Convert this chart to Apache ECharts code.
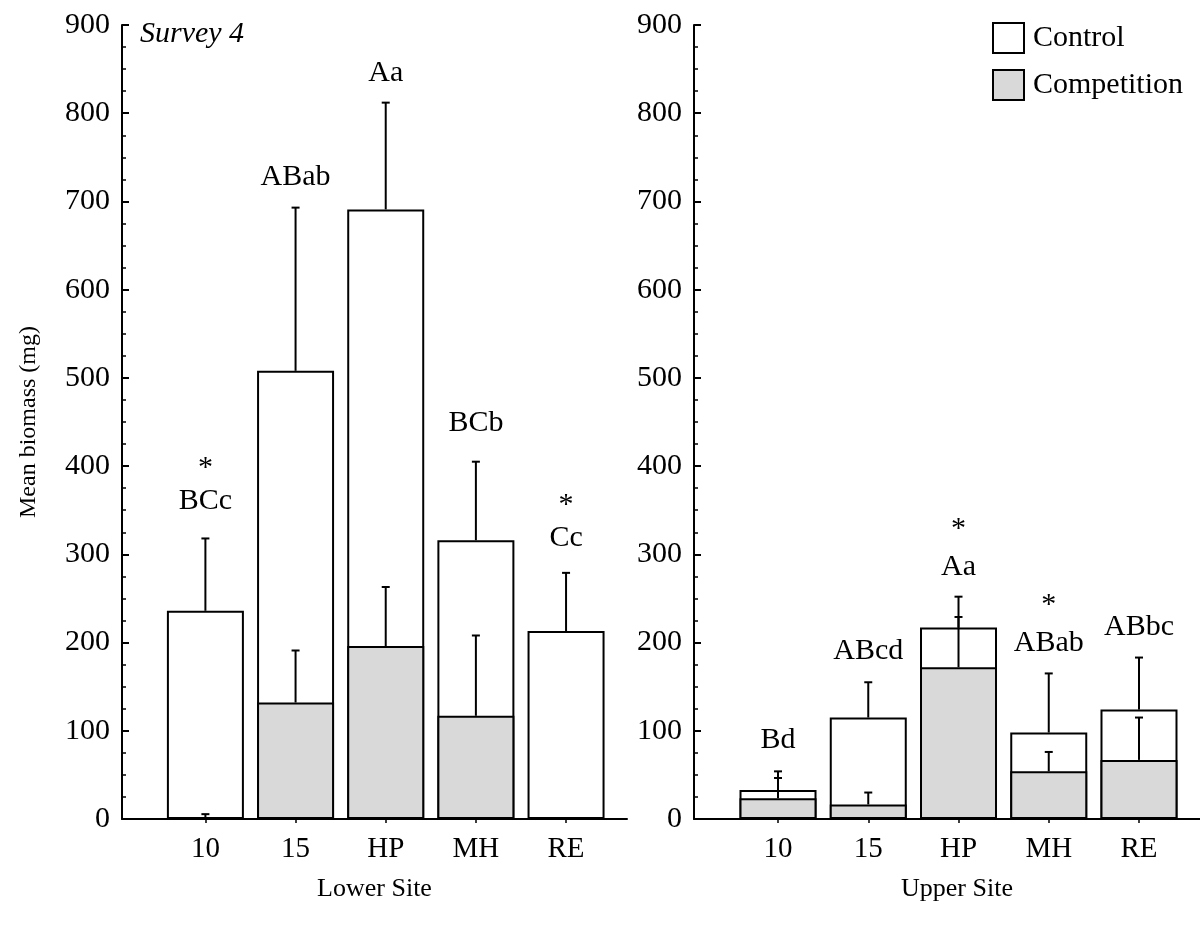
<!DOCTYPE html>
<html>
<head>
<meta charset="utf-8">
<script src="https://cdn.jsdelivr.net/npm/echarts@6/dist/echarts.min.js"></script>
<style>html,body{margin:0;padding:0;background:#fff;}#c{width:1200px;height:932px;}</style>
</head>
<body>
<div id="c"></div>
<script>
const categories = ['10', '15', 'HP', 'MH', 'RE'];
const positions = [1, 2, 3, 4, 5];
const yTicks = [0, 100, 200, 300, 400, 500, 600, 700, 800, 900];

const lowerControl = [236, 508, 691, 316, 213];
const lowerControlSE = [82, 185, 121, 89, 66];
const lowerCompetition = [1.5, 132, 196, 117, 0];
const lowerCompetitionSE = [4, 59, 67, 91, 0];

const upperControl = [33, 115, 217, 98, 124];
const upperControlSE = [21, 40, 35, 67, 59];
const upperCompetition = [23.5, 16.5, 172, 54, 67];
const upperCompetitionSE = [23, 13.5, 57, 22, 48];

const lowerLetters = ['BCc', 'ABab', 'Aa', 'BCb', 'Cc'];
const lowerLetterY = [360, 728, 845, 449, 318];
const lowerStarY = [406, null, null, null, 364];
const upperLetters = ['Bd', 'ABcd', 'Aa', 'ABab', 'ABbc'];
const upperLetterY = [89, 190, 286, 199, 218];
const upperStarY = [null, null, 337, 250, null];

const FONT = "'Liberation Serif', 'Times New Roman', serif";
const GRAY = '#d9d9d9';

function pairs(vals) { return vals.map((v, i) => [positions[i], v]); }
function errData(vals, se) { return vals.map((v, i) => [positions[i], v, se[i]]); }

function errRender(params, api) {
  const x = api.value(0), v = api.value(1), se = api.value(2);
  if (!se) return null;
  const p0 = api.coord([x, v]);
  const p1 = api.coord([x, v + se]);
  const st = { stroke: '#000', lineWidth: 2 };
  return {
    type: 'group',
    children: [
      { type: 'line', shape: { x1: p0[0], y1: p0[1], x2: p1[0], y2: p1[1] }, style: st },
      { type: 'line', shape: { x1: p1[0] - 4, y1: p1[1], x2: p1[0] + 4, y2: p1[1] }, style: st }
    ]
  };
}

function xAxisDef(gi, min, max, name, namePad) {
  return {
    type: 'value', gridIndex: gi, min: min, max: max,
    name: name, nameLocation: 'middle', nameGap: 57,
    nameTextStyle: { fontFamily: FONT, fontSize: 26, color: '#000', padding: namePad },
    axisLine: { show: true, onZero: false, lineStyle: { color: '#000', width: 2 } },
    axisTick: { show: true, inside: false, length: 4, customValues: positions, lineStyle: { color: '#000', width: 1.5 } },
    axisLabel: { show: true, customValues: positions, margin: 16, fontFamily: FONT, fontSize: 29, color: '#000',
      formatter: v => categories[positions.indexOf(Math.round(v))] || '' },
    splitLine: { show: false }
  };
}

function yAxisDef(gi, withName) {
  return {
    type: 'value', gridIndex: gi, min: 0, max: 900, interval: 100,
    name: withName ? 'Mean biomass (mg)' : '', nameLocation: 'middle', nameGap: 81, nameRotate: 90,
    nameTextStyle: { fontFamily: FONT, fontSize: 24, color: '#000' },
    axisLine: { show: true, lineStyle: { color: '#000', width: 2 } },
    axisTick: { show: true, inside: true, length: 7, lineStyle: { color: '#000', width: 2 } },
    minorTick: { show: true, splitNumber: 4, length: 4, lineStyle: { color: '#000', width: 1.5 } },
    axisLabel: { margin: 12, fontFamily: FONT, fontSize: 30, color: '#000', customValues: yTicks },
    splitLine: { show: false }
  };
}

function barSeries(name, gi, vals, color) {
  return {
    name: name, type: 'bar', xAxisIndex: gi, yAxisIndex: gi,
    data: pairs(vals), barWidth: 77, barGap: '-100%',
    itemStyle: { color: color, borderColor: '#000', borderWidth: 2 },
    emphasis: { disabled: true }, animation: false
  };
}

function errSeries(gi, vals, se) {
  return {
    type: 'custom', xAxisIndex: gi, yAxisIndex: gi, renderItem: errRender,
    data: errData(vals, se), z: 3, animation: false, silent: true
  };
}

function textSeries(gi, texts, ys, dy) {
  const data = [];
  texts.forEach((t, i) => { if (ys[i] != null) data.push({ value: [positions[i], ys[i]], txt: t }); });
  return {
    type: 'scatter', xAxisIndex: gi, yAxisIndex: gi, symbolSize: 0, silent: true, animation: false,
    itemStyle: { opacity: 1 },
    data: data,
    label: { show: true, position: 'inside', offset: [0, dy], fontFamily: FONT, fontSize: 30, color: '#000',
      opacity: 1, textBorderWidth: 0, formatter: p => p.data.txt }
  };
}

const chart = echarts.init(document.getElementById('c'), null, { renderer: 'canvas' });
chart.setOption({
  backgroundColor: '#fff',
  animation: false,
  textStyle: { fontFamily: FONT },
  title: {
    text: 'Survey 4', left: 135, top: 14,
    textStyle: { fontFamily: FONT, fontStyle: 'italic', fontWeight: 'normal', fontSize: 30, color: '#000' }
  },
  legend: {
    orient: 'vertical', left: 987, top: 17, itemWidth: 31, itemHeight: 30, itemGap: 15,
    data: ['Control', 'Competition'], icon: 'rect', selectedMode: false,
    itemStyle: { borderColor: '#000', borderWidth: 2 },
    textStyle: { fontFamily: FONT, fontSize: 30, color: '#000', padding: [0, 0, 0, 4] }
  },
  grid: [
    { left: 122, top: 25, width: 505, height: 794, containLabel: false },
    { left: 694, top: 25, width: 506, height: 794, containLabel: false }
  ],
  xAxis: [xAxisDef(0, 0.075, 5.676, 'Lower Site', 0), xAxisDef(1, 0.069, 5.676, 'Upper Site', [0, 0, 0, 20])],
  yAxis: [yAxisDef(0, true), yAxisDef(1, false)],
  series: [
    barSeries('Control', 0, lowerControl, '#fff'),
    barSeries('Competition', 0, lowerCompetition, GRAY),
    errSeries(0, lowerControl, lowerControlSE),
    errSeries(0, lowerCompetition, lowerCompetitionSE),
    barSeries('Control', 1, upperControl, '#fff'),
    barSeries('Competition', 1, upperCompetition, GRAY),
    errSeries(1, upperControl, upperControlSE),
    errSeries(1, upperCompetition, upperCompetitionSE),
    textSeries(0, lowerLetters, lowerLetterY, 0),
    textSeries(0, ['*', '*', '*', '*', '*'], lowerStarY, 7),
    textSeries(1, upperLetters, upperLetterY, 0),
    textSeries(1, ['*', '*', '*', '*', '*'], upperStarY, 7)
  ]
});
</script>
</body>
</html>
